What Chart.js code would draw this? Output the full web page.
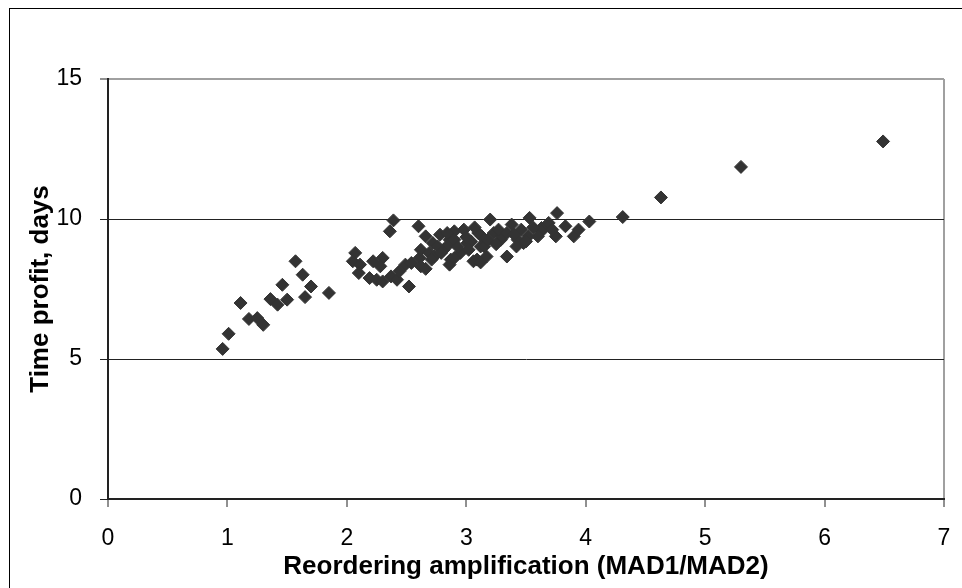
<!DOCTYPE html>
<html>
<head>
<meta charset="utf-8">
<script src="https://cdn.jsdelivr.net/npm/chart.js@4/dist/chart.umd.min.js"></script>
<style>
  body { margin: 0; background: #fff; overflow: hidden; }
  #wrap { position: relative; width: 962px; height: 588px; overflow: hidden; }
  #frame { position: absolute; left: 9px; top: 8px; width: 1100px; height: 800px; border: 1px solid #000; pointer-events: none; }
</style>
</head>
<body>
<div id="wrap">
  <canvas id="chart" width="962" height="588"></canvas>
  <div id="frame"></div>
</div>
<script>
// Reordering amplification (x) vs time profit in days (y)
const ampX = [
  0.96, 1.01, 1.11, 1.18, 1.25, 1.30, 1.36, 1.42, 1.50, 1.46, 1.57, 1.63, 1.70, 1.65, 1.85,
  2.39, 2.36, 2.60, 2.66, 2.07, 2.05, 2.11, 2.10, 2.22, 2.30, 2.28, 2.19, 2.25, 2.30, 2.37,
  2.42, 2.44, 2.49, 2.52, 2.54, 2.61, 2.62, 2.69, 2.72, 2.78, 2.81, 2.86, 2.90,
  3.20, 3.53, 3.76, 3.34, 2.84, 2.98, 2.87, 3.06, 3.12, 3.29, 3.43, 3.48, 3.38, 3.63, 3.75,
  3.01, 3.23, 2.95, 3.17,
  4.03, 3.90, 3.83, 3.69, 2.85, 2.62, 2.86, 3.09, 2.73, 3.15, 3.30, 3.46, 3.63, 3.60, 3.27,
  3.13, 3.04, 2.90, 2.76, 2.71, 2.79, 3.02, 3.18, 3.52, 3.72, 3.94, 3.34, 3.10, 3.42, 2.90,
  2.66, 3.00, 3.12, 3.50, 3.56, 3.25, 3.40, 2.93, 3.07,
  4.31, 4.63, 5.30, 6.49
];
const profitY = [
  5.36, 5.90, 7.00, 6.43, 6.46, 6.22, 7.14, 6.94, 7.12, 7.65, 8.49, 8.01, 7.59, 7.21, 7.36,
  9.95, 9.56, 9.74, 9.38, 8.79, 8.49, 8.37, 8.07, 8.49, 8.61, 8.31, 7.89, 7.83, 7.77, 7.95,
  7.83, 8.13, 8.37, 7.59, 8.43, 8.61, 8.90, 8.79, 9.14, 9.44, 8.90, 9.26, 9.56,
  9.98, 10.04, 10.21, 8.66, 9.50, 9.62, 8.55, 8.49, 9.02, 9.26, 9.26, 9.14, 9.80, 9.68, 9.38,
  9.14, 9.50, 8.79, 8.66,
  9.91, 9.38, 9.74, 9.86, 9.08, 8.31, 8.37, 8.55, 8.66, 9.02, 9.38, 9.62, 9.56, 9.38, 9.62,
  9.38, 9.20, 9.26, 9.02, 8.55, 8.79, 8.90, 9.26, 9.38, 9.62, 9.62, 9.50, 9.50, 9.02, 8.61,
  8.22, 9.35, 8.45, 9.20, 9.70, 9.10, 9.45, 9.00, 9.70,
  10.07, 10.77, 11.86, 12.77
];
const xTicks = [0, 1, 2, 3, 4, 5, 6, 7];
const yTicks = [0, 5, 10, 15];

const points = ampX.map((x, i) => ({ x: x, y: profitY[i] }));
const tickFont = { family: "'Liberation Sans', Arial, sans-serif", size: 23 };
const titleFont = { family: "'Liberation Sans', Arial, sans-serif", size: 26, weight: "bold" };

new Chart(document.getElementById("chart"), {
  type: "scatter",
  data: {
    datasets: [{
      data: points,
      pointStyle: "rectRot",
      pointRadius: 6.5,
      pointBackgroundColor: "#333333",
      pointBorderColor: "#333333",
      pointBorderWidth: 1,
    }],
  },
  options: {
    responsive: false,
    animation: false,
    layout: { padding: { left: 0, top: 79, right: 18, bottom: 0 } },
    plugins: { legend: { display: false }, tooltip: { enabled: false } },
    scales: {
      x: {
        type: "linear",
        min: xTicks[0],
        max: xTicks[xTicks.length - 1],
        afterBuildTicks: scale => { scale.ticks = xTicks.map(v => ({ value: v })); },
        afterFit: scale => {
          scale.height = 89;
          scale.paddingLeft = 0;
          scale.paddingRight = 0;
        },
        ticks: { color: "#000", font: tickFont, padding: 18, maxRotation: 0 },
        grid: {
          color: ctx => ctx.tick && ctx.tick.value === 7 ? "#a0a0a0" : "rgba(0,0,0,0)",
          lineWidth: 2,
          tickColor: "#222",
          tickLength: 8,
          tickWidth: 1,
        },
        border: { color: "#222", width: 2 },
        title: { display: true, text: "Reordering amplification (MAD1/MAD2)", color: "#000", font: titleFont, padding: { top: 6, bottom: 6 } },
      },
      y: {
        type: "linear",
        min: yTicks[0],
        max: yTicks[yTicks.length - 1],
        afterBuildTicks: scale => { scale.ticks = yTicks.map(v => ({ value: v })); },
        afterFit: scale => {
          scale.width = 108;
          scale.paddingTop = 0;
          scale.paddingBottom = 0;
        },
        ticks: { color: "#000", font: tickFont, padding: 18 },
        grid: {
          color: ctx => ctx.tick && ctx.tick.value === 15 ? "#a0a0a0" : "#222",
          lineWidth: ctx => ctx.tick && ctx.tick.value === 15 ? 2 : 1,
          tickColor: "#222",
          tickLength: 8,
          tickWidth: 1,
        },
        border: { color: "#222", width: 2 },
        title: { display: true, text: "Time profit, days", color: "#000", font: titleFont, padding: { top: 25, bottom: 25 } },
      },
    },
  },
});
</script>
</body>
</html>
